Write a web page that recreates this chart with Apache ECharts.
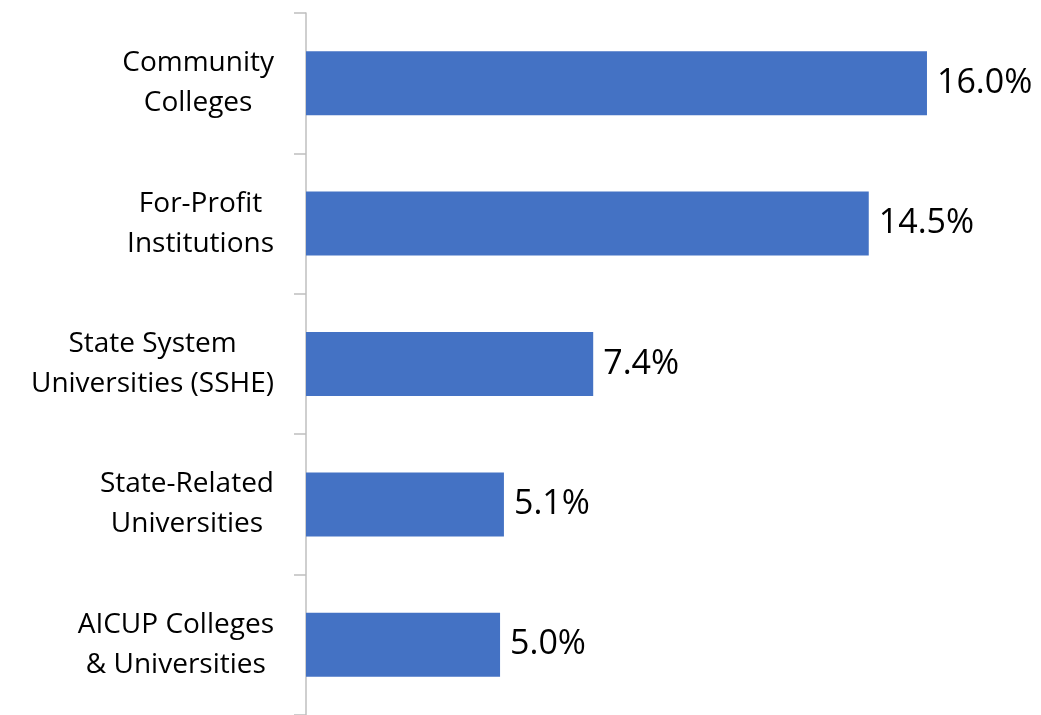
<!DOCTYPE html>
<html>
<head>
<meta charset="utf-8">
<script src="https://cdn.jsdelivr.net/npm/echarts@6/dist/echarts.min.js"></script>
<style>
html,body{margin:0;padding:0;background:#fff;}
#chart{width:1041px;height:715px;}
</style>
</head>
<body>
<div id="chart"></div>
<script>
const categories = [
  "Community\nColleges",
  "For-Profit\nInstitutions",
  "State System\nUniversities (SSHE)",
  "State-Related\nUniversities",
  "AICUP Colleges\n& Universities"
];
const values = [16.0, 14.5, 7.4, 5.1, 5.0];

const chart = echarts.init(document.getElementById('chart'), null, {renderer: 'canvas'});
chart.setOption({
  animation: false,
  backgroundColor: '#ffffff',
  grid: {left: 306, top: 13, width: 698.6, height: 706, containLabel: false},
  xAxis: {
    type: 'value', min: 0, max: 18, show: false
  },
  yAxis: {
    type: 'category', data: categories, inverse: true,
    axisLine: {show: true, lineStyle: {color: '#bfbfbf', width: 1.5}},
    axisTick: {show: true, length: 12, lineStyle: {color: '#bfbfbf', width: 1.5}},
    axisLabel: {
      margin: 32, fontFamily: 'Open Sans', fontSize: 28, lineHeight: 40,
      color: '#000000', align: 'right',
      formatter: v => v.split('\n').map(l => '{c|' + l + '}').join('\n'),
      rich: {c: {align: 'center', fontFamily: 'Open Sans', fontSize: 28, lineHeight: 40, color: '#000000'}}
    }
  },
  series: [{
    type: 'bar', data: values, barWidth: 64,
    itemStyle: {color: '#4472C4'},
    label: {
      show: true, position: 'right', distance: 10,
      fontFamily: 'Open Sans', fontSize: 34, color: '#000000',
      formatter: p => p.value.toFixed(1) + '%'
    }
  }]
});
</script>
</body>
</html>
